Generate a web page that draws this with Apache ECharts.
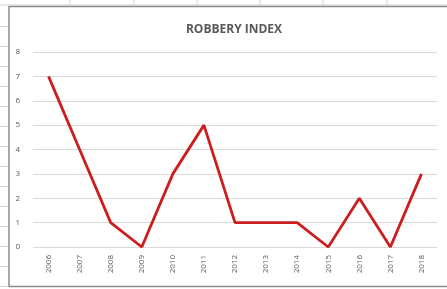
<!DOCTYPE html>
<html>
<head>
<meta charset="utf-8">
<script src="https://cdn.jsdelivr.net/npm/echarts@6/dist/echarts.min.js"></script>
<style>
  html, body { margin: 0; padding: 0; background: #ffffff; }
  #chart { width: 447px; height: 289px; }
</style>
</head>
<body>
<div id="chart"></div>
<script>
// 年份
var years = ['2006', '2007', '2008', '2009', '2010', '2011', '2012', '2013', '2014', '2015', '2016', '2017', '2018']
// 指数
var robbery = [7, 4, 1, 0, 3, 5, 1, 1, 1, 0, 2, 0, 3]
var yTicks = [0, 1, 2, 3, 4, 5, 6, 7, 8]

// 表格背景线
var sheetLines = [
  { type: 'line', shape: { x1: 0, y1: 5, x2: 447, y2: 5 }, style: { stroke: '#d4d4d4', lineWidth: 1 } }
]
;[70, 134, 197, 260, 323, 387].forEach(function (x) {
  sheetLines.push({ type: 'line', shape: { x1: x, y1: 0, x2: x, y2: 5 }, style: { stroke: '#d4d4d4', lineWidth: 1 } })
})
for (var ry = 26.5; ry < 289; ry += 20) {
  sheetLines.push({ type: 'line', shape: { x1: 0, y1: ry, x2: 8, y2: ry }, style: { stroke: '#d4d4d4', lineWidth: 1 } })
}
sheetLines.push({ type: 'rect', shape: { x: 9, y: 6.5, width: 445, height: 280 }, style: { fill: 'none', stroke: '#8c8c8c', lineWidth: 1.5 } })

var option = {
  animation: false,
  backgroundColor: '#ffffff',
  title: {
    text: 'ROBBERY INDEX',
    left: 229,
    top: 19,
    textAlign: 'center',
    textStyle: {
      color: '#595959',
      fontSize: 12,
      fontWeight: 'bold',
      fontFamily: 'Open Sans'
    }
  },
  graphic: sheetLines,
  grid: {
    left: 33,
    right: 10,
    top: 52,
    bottom: 42
  },
  xAxis: {
    type: 'category',
    data: years,
    boundaryGap: true,
    axisLine: { show: false },
    axisTick: { show: false },
    axisLabel: {
      rotate: 90,
      color: '#595959',
      fontSize: 8,
      margin: 8,
      fontFamily: 'Open Sans'
    }
  },
  yAxis: {
    type: 'value',
    min: 0,
    max: 8,
    interval: 1,
    axisLine: { show: false },
    axisTick: { show: false },
    axisLabel: {
      color: '#595959',
      fontSize: 8,
      margin: 13,
      fontFamily: 'Open Sans',
      formatter: function (v) { return yTicks.indexOf(v) >= 0 ? String(v) : '' }
    },
    splitLine: {
      show: true,
      lineStyle: { color: '#d9d9d9', width: 1 }
    }
  },
  series: [
    {
      type: 'line',
      data: robbery,
      symbol: 'none',
      lineStyle: {
        color: '#cc1e1e',
        width: 2.8
      }
    }
  ]
}

echarts.init(document.getElementById('chart')).setOption(option)
</script>
</body>
</html>
